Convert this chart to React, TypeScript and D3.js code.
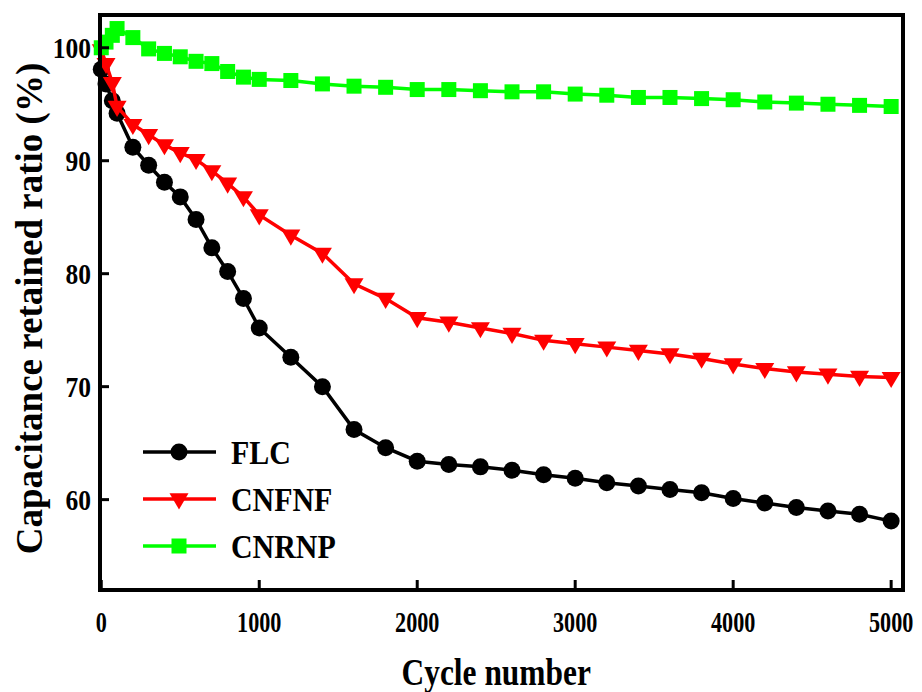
import React from 'react';
import * as d3 from 'd3';

// cycle numbers (x) shared by all three series
const cycles = [0, 30, 70, 100, 200, 300, 400, 500, 600, 700, 800, 900, 1000,
  1200, 1400, 1600, 1800, 2000, 2200, 2400, 2600, 2800, 3000, 3200, 3400,
  3600, 3800, 4000, 4200, 4400, 4600, 4800, 5000];

const flc = [98.1, 96.8, 95.3, 94.2, 91.2, 89.6, 88.1, 86.8, 84.8, 82.3, 80.2, 77.8, 75.2,
  72.6, 70.0, 66.2, 64.6, 63.4, 63.1, 62.9, 62.6, 62.2, 61.9, 61.5, 61.2,
  60.9, 60.6, 60.1, 59.7, 59.3, 59.0, 58.7, 58.1];

const cnfnf = [99.8, 98.6, 96.9, 94.8, 93.2, 92.3, 91.4, 90.7, 90.1, 89.1, 88.0, 86.8, 85.2,
  83.4, 81.8, 79.1, 77.8, 76.1, 75.7, 75.2, 74.7, 74.1, 73.8, 73.5, 73.2,
  72.9, 72.5, 72.0, 71.6, 71.3, 71.1, 70.9, 70.8];

const cnrnp = [100.0, 100.5, 101.1, 101.7, 100.9, 99.9, 99.5, 99.2, 98.8, 98.6, 97.9, 97.4, 97.2,
  97.1, 96.8, 96.6, 96.5, 96.3, 96.3, 96.2, 96.1, 96.1, 95.9, 95.8, 95.6,
  95.6, 95.5, 95.4, 95.2, 95.1, 95.0, 94.9, 94.8];

const xTicks = [0, 1000, 2000, 3000, 4000, 5000];
const yTicks = [60, 70, 80, 90, 100];

const seriesNames = ['FLC', 'CNFNF', 'CNRNP'];
const seriesColors = ['#000000', '#ff0000', '#00ff00'];
const seriesShapes = ['circle', 'triangle', 'square'];
const seriesValues = [flc, cnfnf, cnrnp];

const W = 922, H = 692;
const plot = { left: 100, right: 903, top: 15, bottom: 590 };
const font = '"Liberation Serif", "Times New Roman", serif';

function Marker({ shape, x, y, color }: { shape: string; x: number; y: number; color: string }) {
  if (shape === 'circle') return <circle cx={x} cy={y} r={8.5} fill={color} />;
  if (shape === 'triangle') {
    const s = 9.5;
    return <path d={`M${x - s},${y - s * 0.6} L${x + s},${y - s * 0.6} L${x},${y + s * 1.1} Z`} fill={color} />;
  }
  return <rect x={x - 7.5} y={y - 7.5} width={15} height={15} fill={color} />;
}

export default function App() {
  const xScale = d3.scaleLinear().domain([-8, 5075]).range([plot.left, plot.right]);
  const yScale = d3.scaleLinear().domain([52, 102.9]).range([plot.bottom, plot.top]);

  const line = d3.line<[number, number]>()
    .x(d => xScale(d[0]))
    .y(d => yScale(d[1]));

  return (
    <svg width={W} height={H} style={{ position: 'absolute', left: 0, top: 0, background: '#fff' }}>
      {seriesValues.map((vals, i) => {
        const pts = cycles.map((c, j) => [c, vals[j]] as [number, number]);
        return (
          <g key={seriesNames[i]}>
            <path d={line(pts) || ''} fill="none" stroke={seriesColors[i]} strokeWidth={3.5} />
            {pts.map((p, j) => (
              <Marker key={j} shape={seriesShapes[i]} x={xScale(p[0])} y={yScale(p[1])} color={seriesColors[i]} />
            ))}
          </g>
        );
      })}

      {/* frame */}
      <rect x={plot.left} y={plot.top} width={plot.right - plot.left} height={plot.bottom - plot.top}
        fill="none" stroke="#000" strokeWidth={4} />

      {/* x ticks */}
      {xTicks.map(t => (
        <g key={t}>
          <line x1={xScale(t)} x2={xScale(t)} y1={plot.bottom} y2={plot.bottom - 10} stroke="#000" strokeWidth={3} />
          <text transform={`translate(${xScale(t)},${plot.bottom + 42}) scale(0.74,1)`} textAnchor="middle"
            fontFamily={font} fontWeight="bold" fontSize={30}>{t}</text>
        </g>
      ))}

      {/* y ticks */}
      {yTicks.map(t => (
        <g key={t}>
          <line x1={plot.left} x2={plot.left + 9} y1={yScale(t)} y2={yScale(t)} stroke="#000" strokeWidth={3} />
          <text transform={`translate(${plot.left - 9},${yScale(t) + 10}) scale(0.85,1)`} textAnchor="end"
            fontFamily={font} fontWeight="bold" fontSize={30}>{t}</text>
        </g>
      ))}

      {/* axis titles */}
      <text transform={`translate(${(xScale(0) + xScale(5000)) / 2},${685}) scale(0.85,1)`} textAnchor="middle"
        fontFamily={font} fontWeight="bold" fontSize={37}>Cycle number</text>
      <text transform={`translate(42,${(plot.top + plot.bottom) / 2 + 6}) rotate(-90)`} textAnchor="middle"
        fontFamily={font} fontWeight="bold" fontSize={37}>Capacitance retained ratio (%)</text>

      {/* legend */}
      {seriesNames.map((name, i) => {
        const y = 452 + i * 47;
        return (
          <g key={name}>
            <line x1={143} x2={216} y1={y} y2={y} stroke={seriesColors[i]} strokeWidth={3.5} />
            <Marker shape={seriesShapes[i]} x={179} y={y} color={seriesColors[i]} />
            <text transform={`translate(231,${y + 12}) scale(0.88,1)`} fontFamily={font} fontWeight="bold"
              fontSize={34}>{name}</text>
          </g>
        );
      })}
    </svg>
  );
}
